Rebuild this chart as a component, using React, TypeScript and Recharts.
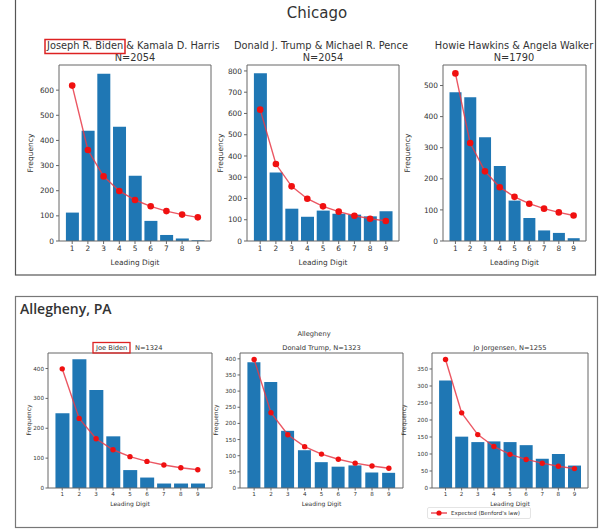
import React from 'react';
import { ComposedChart, Bar, Line, XAxis, YAxis, CartesianGrid } from 'recharts';

// ---------- data ----------
const digits = ['1', '2', '3', '4', '5', '6', '7', '8', '9'];

const chicagoBidenObserved = [113, 438, 665, 454, 260, 80, 24, 10, 3];
const chicagoBidenExpected = [618, 362, 257, 199, 163, 138, 119, 105, 94];
const chicagoTrumpObserved = [789, 322, 152, 114, 143, 128, 124, 116, 140];
const chicagoTrumpExpected = [618, 362, 257, 199, 163, 138, 119, 105, 94];
const chicagoHawkinsObserved = [478, 462, 334, 241, 130, 74, 34, 26, 9];
const chicagoHawkinsExpected = [539, 315, 224, 173, 142, 120, 104, 92, 82];

const alleghenyBidenObserved = [250, 431, 328, 173, 60, 35, 15, 15, 15];
const alleghenyBidenExpected = [399, 233, 165, 128, 105, 89, 77, 68, 61];
const alleghenyTrumpObserved = [389, 328, 177, 117, 80, 66, 70, 48, 47];
const alleghenyTrumpExpected = [398, 233, 165, 128, 105, 89, 77, 68, 61];
const alleghenyJorgensenObserved = [316, 151, 135, 137, 135, 126, 86, 100, 66];
const alleghenyJorgensenExpected = [378, 221, 157, 122, 99, 84, 73, 64, 57];

const ticksChicagoBiden = [0, 100, 200, 300, 400, 500, 600];
const ticksChicagoTrump = [0, 100, 200, 300, 400, 500, 600, 700, 800];
const ticksChicagoHawkins = [0, 100, 200, 300, 400, 500];
const ticksAlleghenyBiden = [0, 100, 200, 300, 400];
const ticksAlleghenyTrump = [0, 50, 100, 150, 200, 250, 300, 350, 400];
const ticksAlleghenyJorgensen = [0, 50, 100, 150, 200, 250, 300, 350];

const yMaxChicago = [700, 828, 566];
const yMaxAllegheny = [452, 418, 397];

// ---------- layout ----------
type Spec = {
  observed: number[];
  expected: number[];
  yMax: number;
  yTicks: number[];
  px: number;
  py: number;
  pw: number;
  ph: number;
  tickFont: number;
  dotR: number;
};

const TOP = { py: 65, ph: 176, tickFont: 7.4, dotR: 3.3 };
const BOT = { py: 353, ph: 135, tickFont: 5.6, dotR: 2.7 };

const specs: Spec[] = [
  { observed: chicagoBidenObserved, expected: chicagoBidenExpected, yMax: yMaxChicago[0], yTicks: ticksChicagoBiden, px: 59, pw: 152, ...TOP },
  { observed: chicagoTrumpObserved, expected: chicagoTrumpExpected, yMax: yMaxChicago[1], yTicks: ticksChicagoTrump, px: 247, pw: 152, ...TOP },
  { observed: chicagoHawkinsObserved, expected: chicagoHawkinsExpected, yMax: yMaxChicago[2], yTicks: ticksChicagoHawkins, px: 443, pw: 143, ...TOP },
  { observed: alleghenyBidenObserved, expected: alleghenyBidenExpected, yMax: yMaxAllegheny[0], yTicks: ticksAlleghenyBiden, px: 48, pw: 164, ...BOT },
  { observed: alleghenyTrumpObserved, expected: alleghenyTrumpExpected, yMax: yMaxAllegheny[1], yTicks: ticksAlleghenyTrump, px: 240, pw: 163, ...BOT },
  { observed: alleghenyJorgensenObserved, expected: alleghenyJorgensenExpected, yMax: yMaxAllegheny[2], yTicks: ticksAlleghenyJorgensen, px: 432, pw: 156, ...BOT },
];

const FONT = '"DejaVu Sans", sans-serif';
const AXIS = '#666';
const TEXT = '#333';

function Panel({ spec }: { spec: Spec }) {
  const data = digits.map((d, i) => ({ digit: d, observed: spec.observed[i], expected: spec.expected[i] }));
  const padX = (0.34 * spec.pw) / 9.68;
  const YW = 40;
  const XH = 30;
  const T = 5;
  const R = 5;
  const small = spec.tickFont < 6;
  return (
    <div style={{ position: 'absolute', left: spec.px - YW, top: spec.py - T }}>
      <ComposedChart
        width={spec.pw + YW + R}
        height={spec.ph + T + XH}
        data={data}
        margin={{ top: T, right: R, bottom: 0, left: 0 }}
        barCategoryGap="10%"
      >
        <CartesianGrid
          stroke={AXIS}
          strokeWidth={1}
          horizontalCoordinatesGenerator={(p: any) => [p.offset.top]}
          verticalCoordinatesGenerator={(p: any) => [p.offset.left + p.offset.width]}
        />
        <XAxis
          dataKey="digit"
          height={XH}
          interval={0}
          padding={{ left: padX, right: padX }}
          stroke={AXIS}
          tickSize={small ? 2.5 : 3}
          tickMargin={small ? 1.5 : 2}
          tick={{ fontSize: spec.tickFont, fill: TEXT, fontFamily: FONT }}
        />
        <YAxis
          width={YW}
          type="number"
          domain={[0, spec.yMax]}
          ticks={spec.yTicks}
          interval={0}
          stroke={AXIS}
          tickSize={small ? 2.5 : 3}
          tickMargin={small ? 1.5 : 2}
          tick={{ fontSize: spec.tickFont, fill: TEXT, fontFamily: FONT }}
        />
        <Bar dataKey="observed" fill="#1f77b4" isAnimationActive={false} />
        <Line
          dataKey="expected"
          stroke="#e83a48"
          strokeOpacity={0.85}
          strokeWidth={1.4}
          dot={{ r: spec.dotR, fill: '#f01010', stroke: '#f01010', strokeWidth: 0 }}
          activeDot={false}
          isAnimationActive={false}
        />
      </ComposedChart>
    </div>
  );
}

function YLabel({ x, y, size }: { x: number; y: number; size: number }) {
  return (
    <text
      x={x}
      y={y}
      transform={`rotate(-90 ${x} ${y})`}
      textAnchor="middle"
      dominantBaseline="central"
      fontSize={size}
      fill={TEXT}
      fontFamily={FONT}
    >
      Frequency
    </text>
  );
}

function XLabel({ x, y, size }: { x: number; y: number; size: number }) {
  return (
    <text x={x} y={y} textAnchor="middle" dominantBaseline="central" fontSize={size} fill={TEXT} fontFamily={FONT}>
      Leading Digit
    </text>
  );
}

export default function App() {
  return (
    <div style={{ position: 'absolute', left: 0, top: 0, width: 600, height: 531, background: '#fff', overflow: 'hidden' }}>
      {specs.map((s, i) => (
        <Panel key={i} spec={s} />
      ))}
      <svg width={600} height={531} style={{ position: 'absolute', left: 0, top: 0, pointerEvents: 'none' }}>
        {/* panel borders */}
        <rect x={15.5} y={-2} width={580} height={277} fill="none" stroke="#555" strokeWidth={1.2} />
        <rect x={15.5} y={296.5} width={582} height={231} fill="none" stroke="#777" strokeWidth={1.2} />

        {/* Chicago */}
        <text x={317} y={18} textAnchor="middle" fontSize={15} fill={TEXT} fontFamily={FONT}>
          Chicago
        </text>
        <text x={47} y={49} textAnchor="start" fontSize={9.8} fill={TEXT} fontFamily={FONT}>
          Joseph R. Biden &amp; Kamala D. Harris
        </text>
        <text x={135} y={61} textAnchor="middle" fontSize={9.8} fill={TEXT} fontFamily={FONT}>
          N=2054
        </text>
        <rect x={45} y={39.5} width={80} height={14} fill="none" stroke="#dd2222" strokeWidth={1.5} />
        <text x={321} y={49} textAnchor="middle" fontSize={9.8} fill={TEXT} fontFamily={FONT}>
          Donald J. Trump &amp; Michael R. Pence
        </text>
        <text x={323} y={61} textAnchor="middle" fontSize={9.8} fill={TEXT} fontFamily={FONT}>
          N=2054
        </text>
        <text x={514} y={49} textAnchor="middle" fontSize={9.8} fill={TEXT} fontFamily={FONT}>
          Howie Hawkins &amp; Angela Walker
        </text>
        <text x={514} y={61} textAnchor="middle" fontSize={9.8} fill={TEXT} fontFamily={FONT}>
          N=1790
        </text>
        <YLabel x={30} y={153} size={7.5} />
        <YLabel x={220} y={153} size={7.5} />
        <YLabel x={407} y={153} size={7.5} />
        <XLabel x={135} y={262.5} size={7.4} />
        <XLabel x={323} y={262.5} size={7.4} />
        <XLabel x={514.5} y={262.5} size={7.4} />

        {/* Allegheny */}
        <text x={20} y={314} textAnchor="start" fontSize={14} fontWeight={600} fill={TEXT} fontFamily='"Open Sans", sans-serif'>
          Allegheny, PA
        </text>
        <text x={314} y={335.5} textAnchor="middle" fontSize={6.7} fill={TEXT} fontFamily={FONT}>
          Allegheny
        </text>
        <text x={96} y={349.5} textAnchor="start" fontSize={6.7} fill={TEXT} fontFamily={FONT}>
          Joe Biden
        </text>
        <text x={135} y={349.5} textAnchor="start" fontSize={6.7} fill={TEXT} fontFamily={FONT}>
          N=1324
        </text>
        <rect x={93} y={342.5} width={37} height={10.5} fill="none" stroke="#dd2222" strokeWidth={1.3} />
        <text x={321.5} y={349.5} textAnchor="middle" fontSize={6.7} fill={TEXT} fontFamily={FONT}>
          Donald Trump, N=1323
        </text>
        <text x={510} y={349.5} textAnchor="middle" fontSize={6.7} fill={TEXT} fontFamily={FONT}>
          Jo Jorgensen, N=1255
        </text>
        <YLabel x={28} y={420} size={6} />
        <YLabel x={215} y={420} size={6} />
        <YLabel x={403} y={420} size={6} />
        <XLabel x={130} y={503.5} size={6} />
        <XLabel x={321.5} y={503.5} size={6} />
        <XLabel x={510} y={503.5} size={6} />

        {/* legend */}
        <rect x={427.5} y={507.5} width={103} height={11} rx={1.5} fill="#fff" stroke="#ddd" strokeWidth={0.8} />
        <line x1={431} y1={513} x2={447} y2={513} stroke="#e83a48" strokeWidth={1.3} />
        <circle cx={439} cy={513} r={2.6} fill="#f01010" />
        <text x={451} y={513} dominantBaseline="central" fontSize={5.5} fill={TEXT} fontFamily={FONT}>
          Expected (Benford's law)
        </text>
      </svg>
    </div>
  );
}
